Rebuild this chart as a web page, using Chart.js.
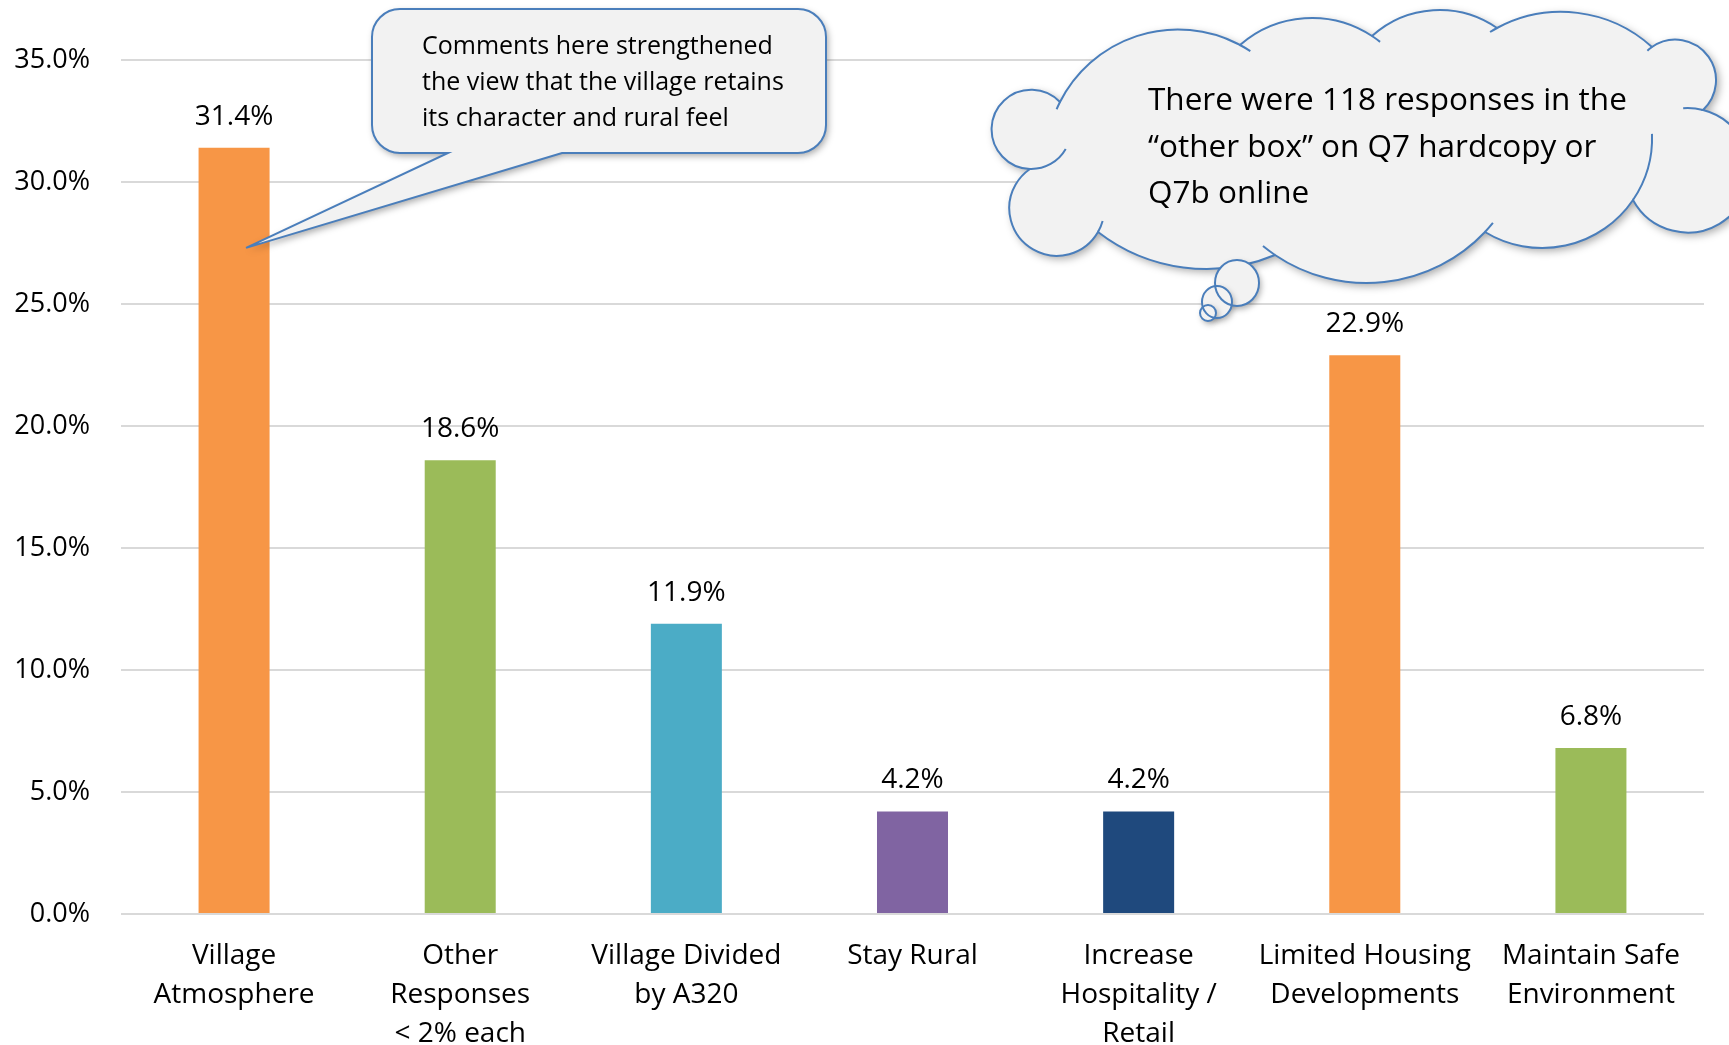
<!DOCTYPE html>
<html>
<head>
<meta charset="utf-8">
<script src="https://cdn.jsdelivr.net/npm/chart.js@4/dist/chart.umd.min.js"></script>
<style>
  body { margin: 0; background: #fff; }
  #wrap { width: 1729px; height: 1045px; }
</style>
</head>
<body>
<div id="wrap"><canvas id="myChart" width="1729" height="1045"></canvas></div>
<script>
const categories = [
    ['Village', 'Atmosphere'],
    ['Other', 'Responses', '< 2% each'],
    ['Village Divided', 'by A320'],
    ['Stay Rural'],
    ['Increase', 'Hospitality /', 'Retail'],
    ['Limited Housing', 'Developments'],
    ['Maintain Safe', 'Environment'],
];
const shares = [31.4, 18.6, 11.9, 4.2, 4.2, 22.9, 6.8];
const barColors = ['#F79646', '#9BBB59', '#4BACC6', '#8064A2', '#1F497D', '#F79646', '#9BBB59'];
const yTicks = [0, 5, 10, 15, 20, 25, 30, 35];

const calloutLines = ['Comments here strengthened', 'the view that the village retains', 'its character and rural feel'];
const cloudLines = ['There were 118 responses in the', '\u201Cother box\u201D on Q7 hardcopy or', 'Q7b online'];

const FONT = '"Open Sans", "Noto Sans", sans-serif';
const EDGE = '#4A7EBB';
const FILL = '#F2F2F2';

// value labels above the bars
const valueLabels = {
    id: 'valueLabels',
    afterDatasetsDraw(chart) {
        const ctx = chart.ctx;
        const meta = chart.getDatasetMeta(0);
        ctx.save();
        ctx.font = '28px ' + FONT;
        ctx.fillStyle = '#000';
        ctx.textAlign = 'center';
        ctx.textBaseline = 'middle';
        meta.data.forEach((bar, i) => {
            ctx.fillText(shares[i].toFixed(1) + '%', bar.x, bar.y - 31);
        });
        ctx.restore();
    }
};

// circle through three points, arc runs clockwise from A to B
function bump(A, P, B) {
    const d = 2 * (A[0] * (P[1] - B[1]) + P[0] * (B[1] - A[1]) + B[0] * (A[1] - P[1]));
    const a2 = A[0] * A[0] + A[1] * A[1], p2 = P[0] * P[0] + P[1] * P[1], b2 = B[0] * B[0] + B[1] * B[1];
    const cx = (a2 * (P[1] - B[1]) + p2 * (B[1] - A[1]) + b2 * (A[1] - P[1])) / d;
    const cy = (a2 * (B[0] - P[0]) + p2 * (A[0] - B[0]) + b2 * (P[0] - A[0])) / d;
    return {
        cx, cy,
        R: Math.hypot(A[0] - cx, A[1] - cy),
        a0: Math.atan2(A[1] - cy, A[0] - cx),
        a1: Math.atan2(B[1] - cy, B[0] - cx)
    };
}

// callout + thought cloud, drawn on top
const notes = {
    id: 'notes',
    afterDraw(chart) {
        const ctx = chart.ctx;
        const xs = chart.scales.x, ys = chart.scales.y;

        // --- rounded callout ---
        const L = 372, T = 9, Rr = 826, B = 153, r = 28;
        const tip = [xs.getPixelForValue(0) + 12, ys.getPixelForValue(27.3)];
        ctx.save();
        ctx.beginPath();
        ctx.moveTo(L + r, T);
        ctx.lineTo(Rr - r, T);
        ctx.arcTo(Rr, T, Rr, T + r, r);
        ctx.lineTo(Rr, B - r);
        ctx.arcTo(Rr, B, Rr - r, B, r);
        ctx.lineTo(562, B);
        ctx.lineTo(tip[0], tip[1]);
        ctx.lineTo(448, B);
        ctx.lineTo(L + r, B);
        ctx.arcTo(L, B, L, B - r, r);
        ctx.lineTo(L, T + r);
        ctx.arcTo(L, T, L + r, T, r);
        ctx.closePath();
        ctx.shadowColor = 'rgba(0,0,0,0.35)';
        ctx.shadowBlur = 7;
        ctx.shadowOffsetX = 2;
        ctx.shadowOffsetY = 3;
        ctx.fillStyle = FILL;
        ctx.fill();
        ctx.shadowColor = 'transparent';
        ctx.strokeStyle = EDGE;
        ctx.lineWidth = 2;
        ctx.stroke();
        ctx.fillStyle = '#000';
        ctx.font = '25px ' + FONT;
        ctx.textBaseline = 'alphabetic';
        calloutLines.forEach((s, i) => ctx.fillText(s, 422, 54 + i * 36));
        ctx.restore();

        // --- thought cloud ---
        const J = [[1060, 102], [1240, 45], [1372, 36], [1497, 28], [1652, 47], [1703, 110],
                   [1633, 200], [1485, 232], [1275, 255], [1098, 232], [1030, 169]];
        const peaks = [[1137, 36], [1313, 18], [1440, 10], [1567, 12], [1716, 80], [1742, 140],
                       [1545, 248], [1370, 283], [1180, 267], [1010, 200], [992, 135]];
        const hookStart = [8, 0, 0, 8, 6, 20, 70, 12, 0, 12, 43];
        const hookEnd = [12, 10, 0, 0, 0, 0, 0, 15, 0, 0, 0];
        const arcs = J.map((p, i) => bump(p, peaks[i], J[(i + 1) % J.length]));

        ctx.save();
        ctx.beginPath();
        ctx.moveTo(J[0][0], J[0][1]);
        arcs.forEach(a => ctx.arc(a.cx, a.cy, a.R, a.a0, a.a1, false));
        ctx.closePath();
        ctx.shadowColor = 'rgba(0,0,0,0.35)';
        ctx.shadowBlur = 8;
        ctx.shadowOffsetX = 3;
        ctx.shadowOffsetY = 3;
        ctx.fillStyle = FILL;
        ctx.fill();
        ctx.shadowColor = 'transparent';
        ctx.strokeStyle = EDGE;
        ctx.lineWidth = 2;
        ctx.stroke();
        arcs.forEach((a, i) => {
            if (hookStart[i]) {
                ctx.beginPath();
                ctx.arc(a.cx, a.cy, a.R, a.a0 - hookStart[i] / a.R, a.a0, false);
                ctx.stroke();
            }
            if (hookEnd[i]) {
                ctx.beginPath();
                ctx.arc(a.cx, a.cy, a.R, a.a1, a.a1 + hookEnd[i] / a.R, false);
                ctx.stroke();
            }
        });

        // small thought bubbles
        const bubbles = [[1237, 283, 22, 23], [1217, 302, 15, 16], [1208, 313, 8, 8]];
        ctx.shadowColor = 'rgba(0,0,0,0.35)';
        ctx.shadowBlur = 6;
        ctx.shadowOffsetX = 2;
        ctx.shadowOffsetY = 3;
        ctx.fillStyle = FILL;
        bubbles.forEach(b => {
            ctx.beginPath();
            ctx.ellipse(b[0], b[1], b[2], b[3], 0, 0, Math.PI * 2);
            ctx.fill();
        });
        ctx.shadowColor = 'transparent';
        bubbles.forEach(b => {
            ctx.beginPath();
            ctx.ellipse(b[0], b[1], b[2], b[3], 0, 0, Math.PI * 2);
            ctx.stroke();
        });

        ctx.fillStyle = '#000';
        ctx.font = '31.5px ' + FONT;
        ctx.textBaseline = 'alphabetic';
        cloudLines.forEach((s, i) => ctx.fillText(s, 1148, 110 + i * 46.5));
        ctx.restore();
    }
};

new Chart(document.getElementById('myChart'), {
    type: 'bar',
    data: {
        labels: categories,
        datasets: [{
            data: shares,
            backgroundColor: barColors,
            barPercentage: 0.314,
            categoryPercentage: 1,
        }]
    },
    options: {
        responsive: false,
        animation: false,
        layout: { padding: { top: 60, right: 25, left: 0, bottom: 0 } },
        scales: {
            y: {
                min: 0,
                max: 35,
                afterFit: s => { s.width = 121; },
                afterBuildTicks: s => { s.ticks = yTicks.map(v => ({ value: v })); },
                ticks: {
                    color: '#000',
                    padding: 31,
                    font: { family: FONT, size: 27 },
                    callback: v => v.toFixed(1) + '%'
                },
                grid: { color: '#D9D9D9', lineWidth: 2, drawTicks: false },
                border: { display: false }
            },
            x: {
                afterFit: s => { s.height = 131; },
                ticks: {
                    color: '#000',
                    padding: 15,
                    autoSkip: false,
                    maxRotation: 0,
                    font: { family: FONT, size: 28, lineHeight: 1.38 }
                },
                grid: { display: false },
                border: { display: false }
            }
        },
        plugins: {
            legend: { display: false },
            tooltip: { enabled: false }
        }
    },
    plugins: [valueLabels, notes]
});
</script>
</body>
</html>
